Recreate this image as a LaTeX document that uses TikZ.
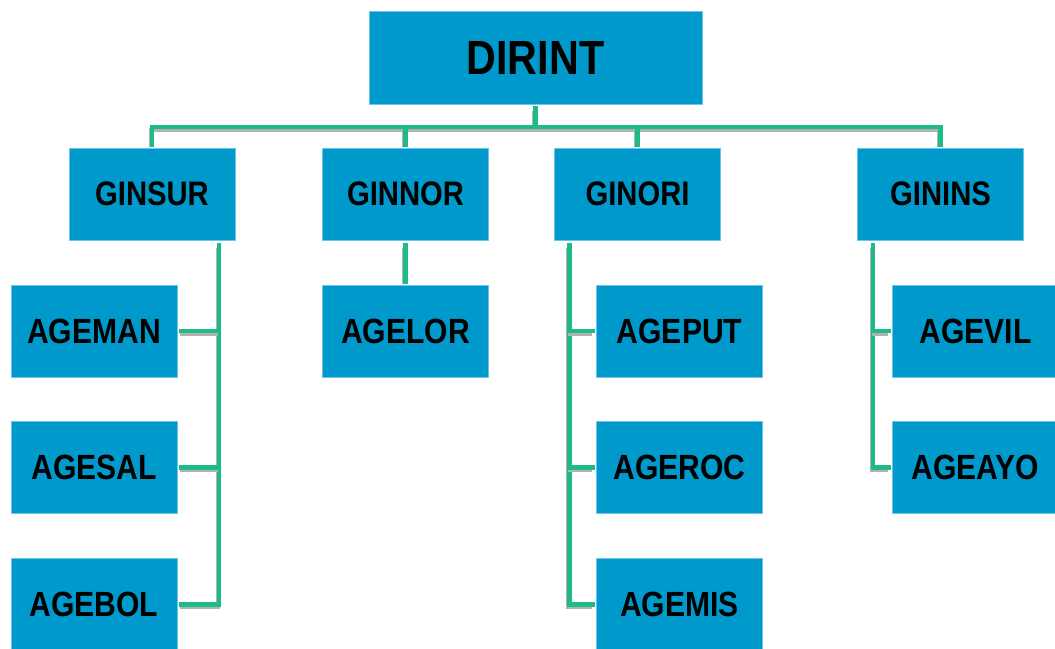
\documentclass[tikz,border=0pt]{standalone}
\usepackage{fontspec}
\newfontfamily\lbl{Liberation Sans}[FakeStretch=0.86]
\definecolor{boxblue}{HTML}{0099CC}
\definecolor{boxedge}{HTML}{6CC6E6}
\definecolor{linkgreen}{HTML}{1DBA8A}
\tikzset{
  unit/.style={draw=boxedge, line width=0.6pt, fill=boxblue, minimum width=166pt,
    minimum height=92pt, inner sep=0pt, font=\lbl\bfseries\fontsize{34}{34}\selectfont},
  topunit/.style={unit, minimum width=333pt, minimum height=93pt,
    font=\lbl\bfseries\fontsize{48}{48}\selectfont},
  subunit/.style={unit, font=\lbl\bfseries\fontsize{35}{35}\selectfont},
  link/.style={draw=linkgreen, line width=4.5pt, line cap=rect,
    preaction={draw=black!30, line width=4pt, transform canvas={shift={(-1.5pt,-2.5pt)}}}}
}
\begin{document}
\begin{tikzpicture}[x=1pt,y=-1pt]
\useasboundingbox (0,0) rectangle (1055,648);
\clip (0,0) rectangle (1055,648);

% units
\node[topunit] (dirint) at (535.5,57.5) {DIRINT};
\node[unit] (ginsur) at (152,194) {GINSUR};
\node[unit] (ginnor) at (405.5,194) {GINNOR};
\node[unit] (ginori) at (637.5,194) {GINORI};
\node[unit] (ginins) at (940.5,194) {GININS};

\node[subunit] (ageman) at (94,331) {AGEMAN};
\node[subunit] (agesal) at (94,467.5) {AGESAL};
\node[subunit] (agebol) at (94,604.5) {AGEBOL};
\node[subunit] (agelor) at (405.5,331) {AGELOR};
\node[subunit] (ageput) at (679.5,331) {AGEPUT};
\node[subunit] (ageroc) at (679.5,467.5) {AGEROC};
\node[subunit] (agemis) at (679.5,604.5) {AGEMIS};
\node[subunit] (agevil) at (975.5,331) {AGEVIL};
\node[subunit] (ageayo) at (975.5,467.5) {AGEAYO};

% guide coordinates for the bus and the trunks
\coordinate (bus) at (0,127);
\coordinate (surtop) at (219,245);
\coordinate (oritop) at (569.5,245);
\coordinate (instop) at (873,245);

% top bus
\draw[link] ([yshift=-4pt]dirint.south) -- (dirint.south |- bus);
\draw[link] ([yshift=3pt]ginsur.north) -- (ginsur.north |- bus)
  -- (ginins.north |- bus) -- ([yshift=3pt]ginins.north);
\draw[link] (ginnor.north |- bus) -- ([yshift=3pt]ginnor.north);
\draw[link] (ginori.north |- bus) -- ([yshift=3pt]ginori.north);

% GINSUR branch
\draw[link] (surtop) |- ([xshift=4pt]agebol.east);
\draw[link] ([xshift=4pt]ageman.east) -- (ageman.east -| surtop);
\draw[link] ([xshift=4pt]agesal.east) -- (agesal.east -| surtop);

% GINNOR branch
\draw[link] ([yshift=-5pt]ginnor.south) -- ([yshift=3pt]agelor.north);

% GINORI branch
\draw[link] (oritop) |- ([xshift=-3pt]agemis.west);
\draw[link] (ageput.west -| oritop) -- ([xshift=-3pt]ageput.west);
\draw[link] (ageroc.west -| oritop) -- ([xshift=-3pt]ageroc.west);

% GININS branch
\draw[link] (instop) |- ([xshift=-3pt]ageayo.west);
\draw[link] (agevil.west -| instop) -- ([xshift=-3pt]agevil.west);
\end{tikzpicture}
\end{document}
